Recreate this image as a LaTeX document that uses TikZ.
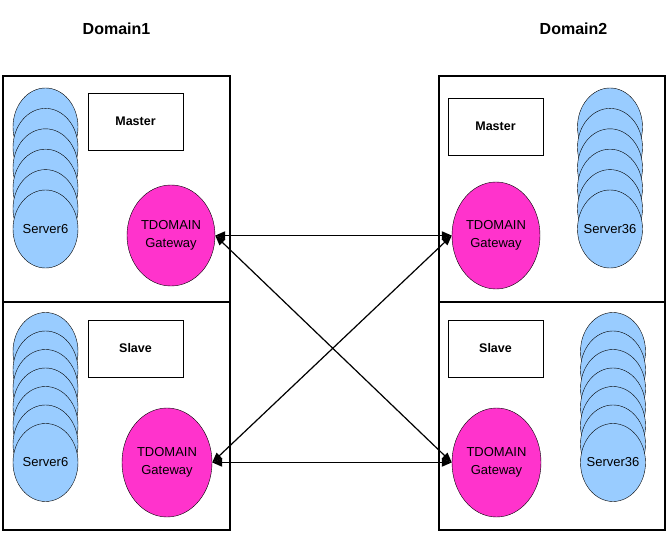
\documentclass[tikz,border=0pt]{standalone}
\usepackage{fontspec}
\setmainfont{Liberation Sans}
\usetikzlibrary{shapes.geometric,arrows.meta}

\definecolor{serverblue}{RGB}{153,204,255}
\definecolor{gatewaypink}{RGB}{255,51,204}

\tikzset{
    server/.style={ellipse, draw, fill=serverblue, minimum width=65pt, minimum height=78pt, inner sep=0pt},
    servertext/.style={font=\fontsize{13}{15}\selectfont, inner sep=0pt},
    gateway/.style={ellipse, draw, fill=gatewaypink, inner sep=0pt, align=center, font=\fontsize{13}{17.5}\selectfont},
    rolebox/.style={draw, minimum width=95pt, minimum height=57pt, inner sep=0pt, font=\bfseries\fontsize{12.5}{15}\selectfont},
    domainbox/.style={line width=1.6pt},
    domainlabel/.style={font=\bfseries\fontsize{16}{19}\selectfont, inner sep=0pt},
    link/.style={{Triangle[length=10pt,width=8pt]}-{Triangle[length=10pt,width=8pt]}, line width=1.2pt}
}

% stack of server ellipses: name, x, y of first centre, gap, count
\newcommand{\serverstack}[5]{
            \foreach \i in {1,...,#5}{
                \node[server] (#1\i) at (#2, #3+\i*#4-#4) {};
            }
        }

\begin{document}
\begin{tikzpicture}[x=1pt, y=-1pt]
        \useasboundingbox (0,0) rectangle (669,534);

        \node[domainlabel] (dom1) at (116.5,29) {Domain1};
        \node[domainlabel] (dom2) at (573.5,29) {Domain2};

        \draw[domainbox] (3,76) rectangle (230,530);
        \draw[domainbox] (3,302) -- (230,302);
        \draw[domainbox] (439,76) rectangle (665,530);
        \draw[domainbox] (439,302) -- (665,302);

        \serverstack{srvA}{45.5}{127}{20.4}{6}
        \node[servertext] (srvAtext) at (srvA6.center) {Server6};
        \serverstack{srvB}{610}{127}{20.4}{6}
        \node[servertext] (srvBtext) at (srvB6.center) {Server36};
        \serverstack{srvC}{45.5}{351.5}{18.5}{7}
        \node[servertext] (srvCtext) at (srvC7.center) {Server6};
        \serverstack{srvD}{613}{351.5}{18.5}{7}
        \node[servertext] (srvDtext) at (srvD7.center) {Server36};

        \node[rolebox] (masterA) at (135.5,121.5) {Master};
        \node[rolebox] (masterB) at (495.5,126.5) {Master};
        \node[rolebox] (slaveC) at (135.5,348.5) {Slave};
        \node[rolebox] (slaveD) at (495.5,348.5) {Slave};

        \node[gateway, minimum width=88pt, minimum height=101pt] (gwA) at (171,235.5) {TDOMAIN\\Gateway};
        \node[gateway, minimum width=88pt, minimum height=107pt] (gwB) at (496,235.5) {TDOMAIN\\Gateway};
        \node[gateway, minimum width=90pt, minimum height=109pt] (gwC) at (167,462.5) {TDOMAIN\\Gateway};
        \node[gateway, minimum width=89pt, minimum height=109pt] (gwD) at (496.5,462.5) {TDOMAIN\\Gateway};

        \draw[link, line width=1.9pt] (gwA.east) -- (gwB.west);
        \draw[link, line width=1.9pt] (gwC.east) -- (gwD.west);
        \draw[link] (gwA.east) -- (gwD.west);
        \draw[link] (gwB.west) -- (gwC.east);
        \end{tikzpicture}
\end{document}
